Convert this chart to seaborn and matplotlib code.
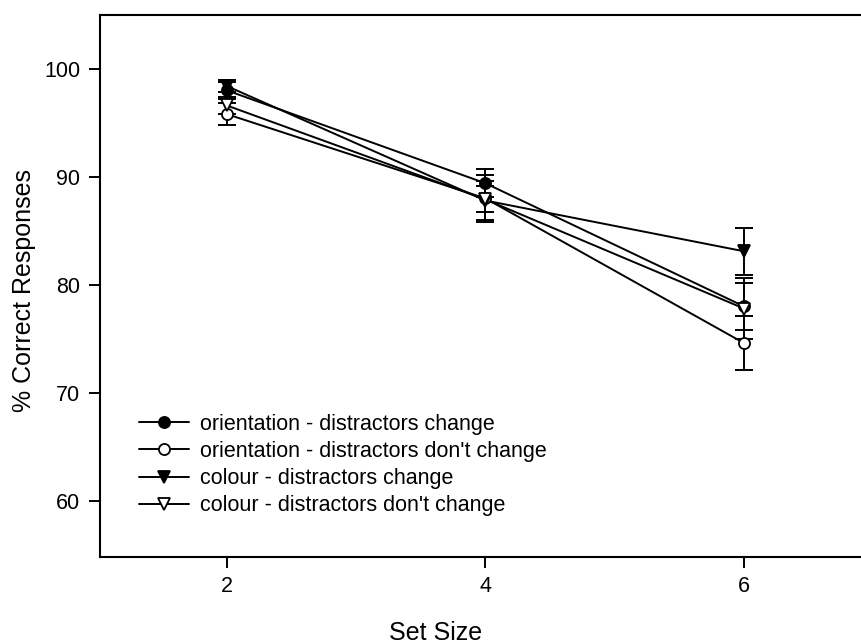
import matplotlib
matplotlib.use("Agg")
import matplotlib.pyplot as plt
import seaborn as sns
import pandas as pd

set_sizes = [2, 4, 6]
conditions = [
    "orientation - distractors change",
    "orientation - distractors don't change",
    "colour - distractors change",
    "colour - distractors don't change",
]
orient_change = [98.0, 89.4, 78.0]
orient_nochange = [95.8, 88.0, 74.6]
colour_change = [98.4, 87.8, 83.1]
colour_nochange = [96.6, 87.9, 77.8]
orient_change_err = [0.8, 1.3, 2.2]
orient_nochange_err = [1.0, 2.2, 2.5]
colour_change_err = [0.6, 1.8, 2.2]
colour_nochange_err = [0.8, 1.2, 2.8]

means = [orient_change, orient_nochange, colour_change, colour_nochange]
errs = [orient_change_err, orient_nochange_err, colour_change_err, colour_nochange_err]
markers = ["o", "o", "v", "v"]
faces = ["black", "white", "black", "white"]

rows = []
for cond, m, e in zip(conditions, means, errs):
    for s, v, err in zip(set_sizes, m, e):
        rows.append({"Set Size": s, "pct": v, "err": err, "condition": cond})
df = pd.DataFrame(rows)

sns.set_theme(style="white")
plt.rcParams["font.family"] = ["Liberation Sans", "DejaVu Sans"]
plt.rcParams["text.color"] = "black"
plt.rcParams["axes.labelcolor"] = "black"

W, H = 861, 644
left_px, right_px, top_px, bottom_px = 99.7, 880.0, 14.7, 557.0
fig = plt.figure(figsize=(W / 100, H / 100), dpi=100)
ax = fig.add_axes([left_px / W, 1 - bottom_px / H,
                   (right_px - left_px) / W, (bottom_px - top_px) / H])

# connecting lines for each condition
sns.lineplot(data=df, x="Set Size", y="pct", hue="condition",
             palette=["black"] * 4, ax=ax, legend=False, linewidth=1.4,
             zorder=3)

handles = []
for cond, mk, fc in zip(conditions, markers, faces):
    sub = df[df["condition"] == cond]
    ax.errorbar(sub["Set Size"], sub["pct"], yerr=sub["err"], fmt="none",
                ecolor="black", elinewidth=1.4, capsize=6.3, capthick=1.4,
                zorder=2)
    ax.plot(sub["Set Size"], sub["pct"], linestyle="none", marker=mk,
            markersize=8, markerfacecolor=fc, markeredgecolor="black",
            markeredgewidth=1.3, zorder=4)
    h, = ax.plot([], [], color="black", linewidth=1.4, marker=mk, markersize=8,
                 markerfacecolor=fc, markeredgecolor="black",
                 markeredgewidth=1.3, label=cond)
    handles.append(h)

# x range: 2 sits at 226.7 px, 6 at 744 px
px_per_unit = (744.0 - 226.7) / 4
x0 = 2 - (226.7 - left_px) / px_per_unit
ax.set_xlim(x0, x0 + (right_px - left_px) / px_per_unit)
ax.set_ylim(54.8, 105)
ax.set_xticks(set_sizes)
ax.set_yticks([60, 70, 80, 90, 100])
ax.tick_params(axis="both", direction="out", length=8, width=1.4,
               labelsize=15.5, color="black", labelcolor="black",
               bottom=True, left=True, pad=6)
ax.set_xlabel("Set Size", fontsize=18, color="black")
ax.set_ylabel("% Correct Responses", fontsize=18, color="black")
ax.xaxis.set_label_coords((436 - left_px) / (right_px - left_px),
                          -(621 - bottom_px) / (bottom_px - top_px))
ax.yaxis.set_label_coords(-(99.7 - 36) / (right_px - left_px),
                          (bottom_px - 290) / (bottom_px - top_px))
for side in ["left", "top", "bottom"]:
    ax.spines[side].set_visible(True)
    ax.spines[side].set_color("black")
    ax.spines[side].set_linewidth(1.5)
ax.spines["right"].set_visible(False)

fs = 15.5
bp = 0.4
leg_x = (139 - bp * fs * 100 / 72 - left_px) / (right_px - left_px)
leg_y = (bottom_px - 405) / (bottom_px - top_px)
leg = ax.legend(handles=handles, loc="upper left", bbox_to_anchor=(leg_x, leg_y),
                borderaxespad=0, borderpad=bp, frameon=False, fontsize=fs,
                handlelength=2.3, labelspacing=0.29, handletextpad=0.55)
for t in leg.get_texts():
    t.set_color("black")

fig.savefig("out.png", dpi=100)
